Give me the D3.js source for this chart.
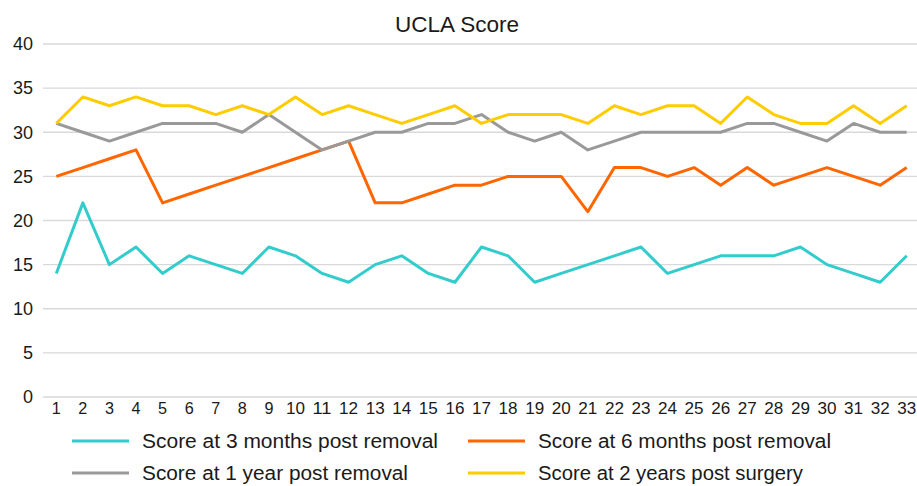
<!DOCTYPE html>
<html>
<head>
<meta charset="utf-8">
<script src="https://d3js.org/d3.v7.min.js"></script>
<style>
  body { margin: 0; background: #fff; }
  svg text { font-family: "Liberation Sans", Arial, sans-serif; fill: #1a1a1a; }
</style>
</head>
<body>
<svg id="chart" width="917" height="486"></svg>
<script>
// data
const patients = d3.range(1, 34);
const seriesNames = [
  "Score at 3 months post removal",
  "Score at 6 months post removal",
  "Score at 1 year post removal",
  "Score at 2 years post surgery"
];
const seriesColors = ["#33CCCC", "#FF6600", "#999999", "#FFCC00"];
const yTicks = [0, 5, 10, 15, 20, 25, 30, 35, 40];

const months3 = [14,22,15,17,14,16,15,14,17,16,14,13,15,16,14,13,17,16,13,14,15,16,17,14,15,16,16,16,17,15,14,13,16];
const months6 = [25,26,27,28,22,23,24,25,26,27,28,29,22,22,23,24,24,25,25,25,21,26,26,25,26,24,26,24,25,26,25,24,26];
const year1   = [31,30,29,30,31,31,31,30,32,30,28,29,30,30,31,31,32,30,29,30,28,29,30,30,30,30,31,31,30,29,31,30,30];
const years2  = [31,34,33,34,33,33,32,33,32,34,32,33,32,31,32,33,31,32,32,32,31,33,32,33,33,31,34,32,31,31,33,31,33];

const allSeries = [months3, months6, year1, years2];

const svg = d3.select("#chart");
const plotL = 43, plotR = 920, plotT = 44, plotB = 397;

const x = d3.scaleBand().domain(patients).range([plotL, plotR]);
const y = d3.scaleLinear().domain([0, 40]).range([plotB, plotT]);

// gridlines
svg.append("g")
  .selectAll("line")
  .data(yTicks)
  .enter().append("line")
    .attr("x1", plotL).attr("x2", plotR)
    .attr("y1", d => y(d)).attr("y2", d => y(d))
    .attr("stroke", "#D9D9D9")
    .attr("stroke-width", 1.3);

// y axis labels
const yAxis = svg.append("g")
  .attr("transform", `translate(${plotL},0)`)
  .call(d3.axisLeft(y).tickValues(yTicks).tickSize(0).tickPadding(10));
yAxis.select(".domain").remove();
yAxis.selectAll("text")
  .style("font-family", "Liberation Sans, Arial, sans-serif")
  .style("font-size", "18px")
  .attr("fill", "#1a1a1a");

// x axis labels
const xAxis = svg.append("g")
  .attr("transform", `translate(0,${plotB})`)
  .call(d3.axisBottom(x).tickSize(0).tickPadding(6));
xAxis.select(".domain").remove();
xAxis.selectAll("text")
  .style("font-family", "Liberation Sans, Arial, sans-serif")
  .style("font-size", "16px")
  .attr("fill", "#1a1a1a")
  .attr("textLength", d => d < 10 ? 9 : 19)
  .attr("lengthAdjust", "spacingAndGlyphs");

// lines
const line = d3.line()
  .x((d, i) => x(patients[i]) + x.bandwidth() / 2)
  .y(d => y(d));

svg.append("g")
  .selectAll("path")
  .data(allSeries)
  .enter().append("path")
    .attr("d", line)
    .attr("fill", "none")
    .attr("stroke", (d, i) => seriesColors[i])
    .attr("stroke-width", 3)
    .attr("stroke-linejoin", "round");

// title
svg.append("text")
  .attr("x", 457)
  .attr("y", 32)
  .attr("text-anchor", "middle")
  .style("font-size", "22px")
  .attr("textLength", 124)
  .attr("lengthAdjust", "spacingAndGlyphs")
  .text("UCLA Score");

// legend
const legendPos = [[72, 441], [468, 441], [72, 473], [468, 473]];
const legendWidths = [296, 293, 266, 265];
const legend = svg.append("g")
  .selectAll("g")
  .data(seriesNames)
  .enter().append("g")
    .attr("transform", (d, i) => `translate(${legendPos[i][0]},${legendPos[i][1]})`);

legend.append("line")
  .attr("x1", 0).attr("x2", 57)
  .attr("y1", 0).attr("y2", 0)
  .attr("stroke", (d, i) => seriesColors[i])
  .attr("stroke-width", 3);

legend.append("text")
  .attr("x", 70)
  .attr("y", 7)
  .style("font-size", "20px")
  .attr("textLength", (d, i) => legendWidths[i])
  .attr("lengthAdjust", "spacingAndGlyphs")
  .text(d => d);
</script>
</body>
</html>
